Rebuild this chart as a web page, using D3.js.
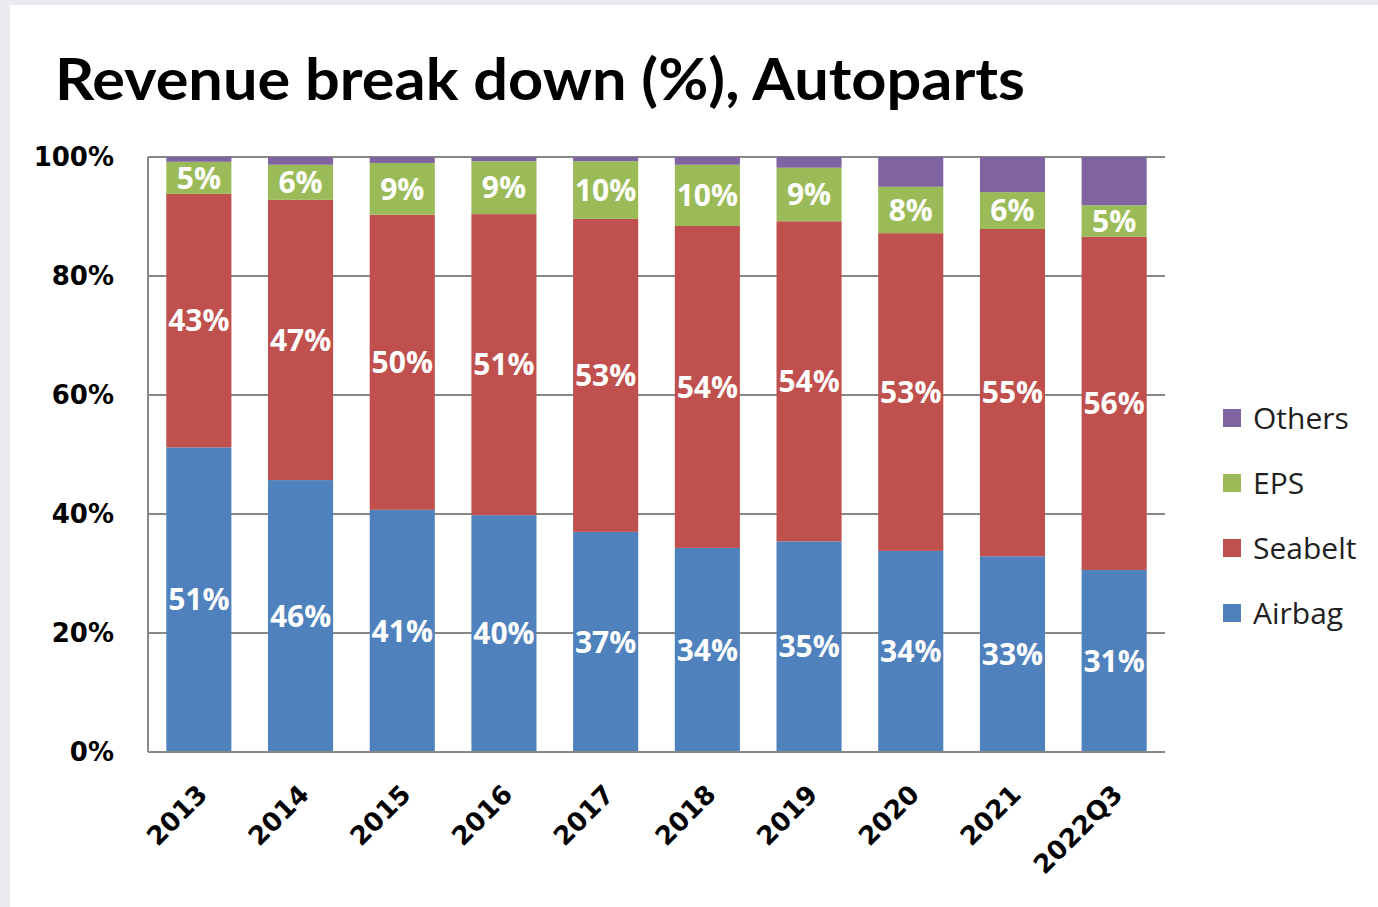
<!DOCTYPE html>
<html>
<head>
<meta charset="utf-8">
<script src="https://cdn.jsdelivr.net/npm/d3@7"></script>
<style>
  html, body { margin: 0; padding: 0; background: #e9ebee; }
  svg { display: block; }
</style>
</head>
<body>
<svg id="chart" width="1378" height="907"></svg>
<script>
// values (percent of revenue)
const years   = ['2013','2014','2015','2016','2017','2018','2019','2020','2021','2022Q3'];
const airbag  = [51.2, 45.7, 40.7, 39.8, 37.0, 34.3, 35.4, 33.8, 32.9, 30.6];
const seabelt = [42.6, 47.1, 49.6, 50.6, 52.6, 54.1, 53.8, 53.4, 55.0, 56.0];
const eps     = [ 5.4,  5.9,  8.7,  8.9,  9.7, 10.3,  9.0,  7.8,  6.2,  5.3];
const others  = [ 0.8,  1.3,  1.0,  0.7,  0.7,  1.3,  1.8,  5.0,  5.9,  8.1];
const yTicks  = [0, 20, 40, 60, 80, 100];

const seriesNames = ['Airbag','Seabelt','EPS','Others'];
const colors = { Airbag: '#4f81bd', Seabelt: '#c0504d', EPS: '#9bbb59', Others: '#8064a2' };
const labelled = { Airbag: true, Seabelt: true, EPS: true, Others: false };

const svg = d3.select('#chart');

// white card, page gray shows on the top and left edge
svg.append('rect').attr('x', 10).attr('y', 5).attr('width', 1368).attr('height', 902).attr('fill', '#ffffff');

const margin = { left: 148, top: 157, right: 1378 - 1165, bottom: 907 - 752 };
const W = 1378 - margin.left - margin.right;
const H = 907 - margin.top - margin.bottom;

const rows = years.map((y, i) => ({
  year: y, Airbag: airbag[i], Seabelt: seabelt[i], EPS: eps[i], Others: others[i]
}));
const stacked = d3.stack().keys(seriesNames)(rows);

const x = d3.scaleBand().domain(years).range([0, W]).paddingInner(0.36).paddingOuter(0.18);
const y = d3.scaleLinear().domain([0, 100]).range([H, 0]);

const g = svg.append('g').attr('transform', `translate(${margin.left},${margin.top})`);

// title
const title = svg.append('text')
  .attr('x', 55).attr('y', 100)
  .attr('font-family', 'Lato, sans-serif').attr('font-weight', 700)
  .attr('font-size', 57).attr('fill', '#000')
  .text('Revenue break down (%), Autoparts');
const tw = title.node().getComputedTextLength();
if (Math.abs(tw - 970) > 4) title.attr('textLength', 970).attr('lengthAdjust', 'spacingAndGlyphs');

// gridlines
g.append('g')
  .selectAll('line').data(yTicks).join('line')
  .attr('x1', 0).attr('x2', W)
  .attr('y1', d => y(d)).attr('y2', d => y(d))
  .attr('stroke', '#878787').attr('stroke-width', 2);

// bars
const layer = g.append('g').selectAll('g').data(stacked).join('g')
  .attr('fill', d => colors[d.key]);
layer.selectAll('rect').data(d => d).join('rect')
  .attr('x', d => x(d.data.year))
  .attr('width', x.bandwidth())
  .attr('y', d => y(d[1]))
  .attr('height', d => y(d[0]) - y(d[1]));

// data labels
stacked.filter(s => labelled[s.key]).forEach(s => {
  g.append('g').selectAll('text').data(s).join('text')
    .attr('x', d => x(d.data.year) + x.bandwidth() / 2)
    .attr('y', d => (y(d[0]) + y(d[1])) / 2)
    .attr('dy', '0.36em')
    .attr('text-anchor', 'middle')
    .attr('font-family', '"Open Sans", sans-serif').attr('font-weight', 700)
    .attr('font-size', 30).attr('fill', '#ffffff')
    .text(d => Math.round(d.data[s.key]) + '%');
});

// axes lines
g.append('line').attr('x1', 0).attr('x2', 0).attr('y1', 0).attr('y2', H)
  .attr('stroke', '#878787').attr('stroke-width', 2);
g.append('line').attr('x1', 0).attr('x2', W).attr('y1', H).attr('y2', H)
  .attr('stroke', '#878787').attr('stroke-width', 2);

// y tick labels
const yAxis = d3.axisLeft(y).tickValues(yTicks).tickFormat(d => d + '%').tickSize(0).tickPadding(34);
const ya = g.append('g').call(yAxis);
ya.select('.domain').remove();
ya.selectAll('text')
  .attr('font-family', '"DejaVu Sans", sans-serif').attr('font-weight', 700)
  .attr('font-size', 26).attr('fill', '#000');

// x tick labels, rotated
const xAxis = d3.axisBottom(x).tickSize(0).tickPadding(0);
const xa = g.append('g').attr('transform', `translate(0,${H})`).call(xAxis);
xa.select('.domain').remove();
xa.selectAll('text')
  .attr('font-family', '"DejaVu Sans", sans-serif').attr('font-weight', 700)
  .attr('font-size', 26).attr('fill', '#000')
  .attr('text-anchor', 'end')
  .attr('dy', null).attr('y', 0)
  .attr('transform', 'translate(10,44) rotate(-45)');

// legend
const legendOrder = ['Others','EPS','Seabelt','Airbag'];
const lg = svg.append('g').attr('transform', 'translate(1223,418)');
const item = lg.selectAll('g').data(legendOrder).join('g')
  .attr('transform', (d, i) => `translate(0,${i * 65})`);
item.append('rect').attr('x', 0).attr('y', -9).attr('width', 18).attr('height', 18)
  .attr('fill', d => colors[d]);
item.append('text').attr('x', 30).attr('y', 0).attr('dy', '0.36em')
  .attr('font-family', '"Open Sans", sans-serif').attr('font-size', 30)
  .attr('fill', '#1f1f1f')
  .text(d => d);
</script>
</body>
</html>
